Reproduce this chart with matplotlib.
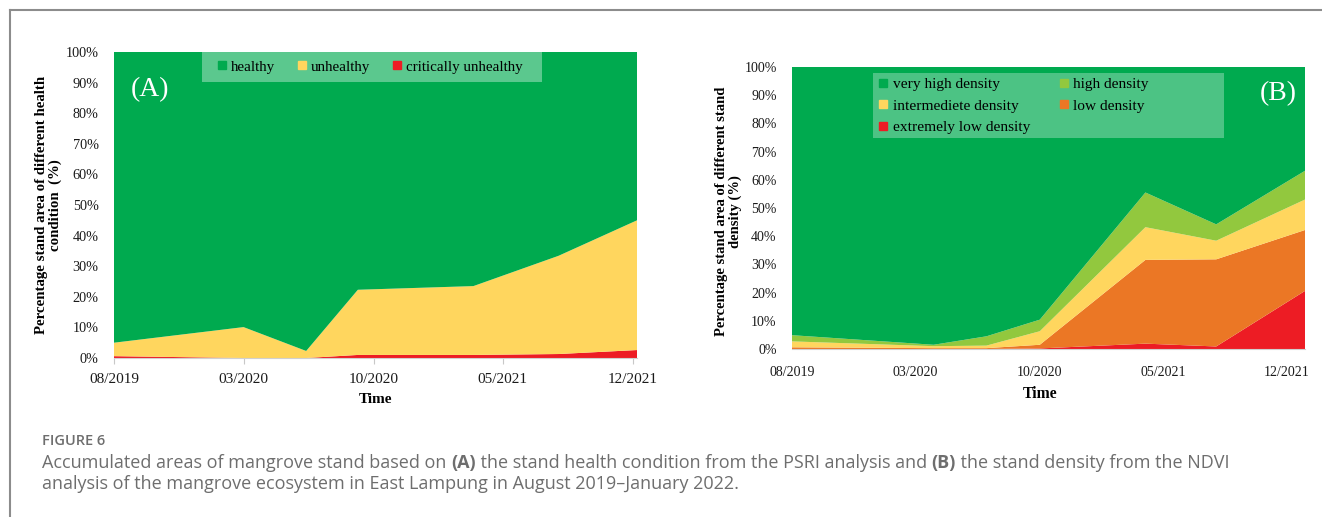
import numpy as np
import matplotlib
matplotlib.use("Agg")
import matplotlib.pyplot as plt
import matplotlib.dates as mdates
from matplotlib.lines import Line2D
from matplotlib.patches import Rectangle
from matplotlib.ticker import FuncFormatter

# (A) stand health condition from PSRI, % of stand area
health_dates = np.array(['2019-08-01', '2020-03-01', '2020-06-12', '2020-09-05',
                         '2021-03-14', '2021-08-01', '2021-12-08'], dtype='datetime64[D]')
critically_unhealthy = [0.6, 0.0, 0.0, 1.0, 1.0, 1.3, 2.6]
unhealthy = [4.4, 10.1, 2.3, 21.3, 22.5, 32.1, 42.4]
healthy = [95.0, 89.9, 97.7, 77.7, 76.5, 66.6, 55.0]

# (B) stand density from NDVI, % of stand area
density_dates = np.array(['2019-08-01', '2020-04-01', '2020-07-01', '2020-10-01',
                          '2021-04-01', '2021-08-01', '2022-01-01'], dtype='datetime64[D]')
extremely_low = [0.0, 0.0, 0.0, 0.2, 1.9, 0.9, 20.6]
low = [0.6, 0.3, 0.3, 1.3, 29.7, 30.9, 21.6]
intermediete = [2.1, 0.7, 0.9, 4.8, 11.6, 6.6, 10.8]
high = [2.2, 0.5, 3.3, 4.1, 12.3, 5.8, 10.2]
very_high = [95.1, 98.5, 95.5, 89.6, 44.5, 55.8, 36.8]

tick_dates = np.array(['2019-08-01', '2020-03-01', '2020-10-01', '2021-05-01',
                       '2021-12-01'], dtype='datetime64[D]')
y_ticks = np.arange(0, 101, 10)

GREEN = '#00AA4F'
LGREEN = '#92C83E'
YELLOW = '#FFD65E'
ORANGE = '#EB7725'
RED = '#ED1C24'

serif = ['Liberation Serif', 'DejaVu Serif']
W, H = 1322, 517
fig = plt.figure(figsize=(W / 100, H / 100), dpi=100)

ax1 = fig.add_axes([114 / W, 1 - 358 / H, 523 / W, 306 / H])
ax2 = fig.add_axes([792 / W, 1 - 349 / H, 513 / W, 282 / H])

ax1.stackplot(health_dates, critically_unhealthy, unhealthy, healthy,
              colors=[RED, YELLOW, GREEN], linewidth=0)
ax2.stackplot(density_dates, extremely_low, low, intermediete, high, very_high,
              colors=[RED, ORANGE, YELLOW, LGREEN, GREEN], linewidth=0)

pct = FuncFormatter(lambda v, p: '%d%%' % v)
for ax, dates in ((ax1, health_dates), (ax2, density_dates)):
    ax.set_xlim(dates[0], dates[-1])
    ax.set_ylim(0, 100)
    ax.set_yticks(y_ticks)
    ax.yaxis.set_major_formatter(pct)
    ax.set_xticks(tick_dates)
    ax.xaxis.set_major_formatter(mdates.DateFormatter('%m/%Y'))
    for s in ('top', 'right', 'left'):
        ax.spines[s].set_visible(False)
    ax.spines['bottom'].set_color('#D0D0D0')
    ax.spines['bottom'].set_linewidth(0.8)
    ax.tick_params(axis='y', length=0, pad=11)
    for lab in ax.get_xticklabels() + ax.get_yticklabels():
        lab.set_family(serif)
        lab.set_color('#1A1A1A')

ax1.tick_params(axis='x', length=4, width=0.8, color='#C8C8C8', pad=7, labelsize=11)
ax1.tick_params(axis='y', labelsize=10.3)
ax2.tick_params(axis='x', length=0, pad=12, labelsize=10)
ax2.tick_params(axis='y', labelsize=10)

# axis titles
ax1.text(-0.125, 0.5, 'Percentage stand area of different health\ncondition  (%)',
         transform=ax1.transAxes, rotation=90, ha='center', va='center',
         family=serif, weight='bold', fontsize=10.7, linespacing=1.12)
ax1.text(0.5, -0.134, 'Time', transform=ax1.transAxes, ha='center', va='center',
         family=serif, weight='bold', fontsize=11)
ax2.text(-0.124, 0.489, 'Percentage stand area of different stand\ndensity (%)',
         transform=ax2.transAxes, rotation=90, ha='center', va='center',
         family=serif, weight='bold', fontsize=10.5, linespacing=1.12)
ax2.text(0.483, -0.16, 'Time', transform=ax2.transAxes, ha='center', va='center',
         family=serif, weight='bold', fontsize=11.3)

# panel letters
ax1.text(0.069, 0.876, '(A)', transform=ax1.transAxes, ha='center', va='center',
         family=serif, color='white', fontsize=20)
ax2.text(0.947, 0.904, '(B)', transform=ax2.transAxes, ha='center', va='center',
         family=serif, color='white', fontsize=20)

# legends on a translucent band
ax1.add_patch(Rectangle((0.168, 0.902), 0.650, 0.098, transform=ax1.transAxes,
                        facecolor='white', alpha=0.36, linewidth=0, zorder=3))
h1 = [Line2D([], [], marker='s', linestyle='', markersize=5.5, color=c)
      for c in (GREEN, YELLOW, RED)]
ax1.legend(h1, ['healthy', 'unhealthy', 'critically unhealthy'], loc='center',
           bbox_to_anchor=(0.490, 0.951), ncol=3, frameon=False, borderpad=0,
           handlelength=0.6, handletextpad=0.3, columnspacing=1.5,
           prop={'family': serif, 'size': 10.8})

ax2.add_patch(Rectangle((0.158, 0.748), 0.684, 0.231, transform=ax2.transAxes,
                        facecolor='white', alpha=0.3, linewidth=0, zorder=3))
h2 = [Line2D([], [], marker='s', linestyle='', markersize=5.5, color=c)
      for c in (GREEN, YELLOW, RED, LGREEN, ORANGE)]
ax2.legend(h2, ['very high density', 'intermediete density', 'extremely low density',
                'high density', 'low density'], loc='center',
           bbox_to_anchor=(0.432, 0.862), ncol=2, frameon=False, borderpad=0,
           handlelength=0.6, handletextpad=0.3, columnspacing=1.9, labelspacing=0.5,
           prop={'family': serif, 'size': 11.1})

# frame lines
fig.add_artist(Line2D([10 / W, 1], [1 - 10 / H] * 2, color='#8C8C8C', lw=1.5))
fig.add_artist(Line2D([10 / W] * 2, [0, 1 - 10 / H], color='#8C8C8C', lw=1.5))

# caption
sans = ['Open Sans', 'DejaVu Sans']
cap = dict(family=sans, color='#6E6E6E', fontsize=13)
fig.text(42 / W, 1 - 441 / H, 'FIGURE 6', family=sans, color='#6E6E6E',
         weight='semibold', fontsize=10.5, va='center')

parts = [('Accumulated areas of mangrove stand based on ', 'normal'),
         ('(A)', 'bold'),
         (' the stand health condition from the PSRI analysis and ', 'normal'),
         ('(B)', 'bold'),
         (' the stand density from the NDVI', 'normal')]
t = fig.text(42 / W, 1 - 463 / H, parts[0][0], va='center', **cap)
for s, w in parts[1:]:
    t = ax1.annotate(s, xy=(1, 0), xycoords=t, va='bottom', ha='left',
                     weight=w, annotation_clip=False, **cap)
fig.text(42 / W, 1 - 484 / H,
         'analysis of the mangrove ecosystem in East Lampung in August 2019\u2013January 2022.',
         va='center', **cap)

fig.savefig('out.png', dpi=100)
